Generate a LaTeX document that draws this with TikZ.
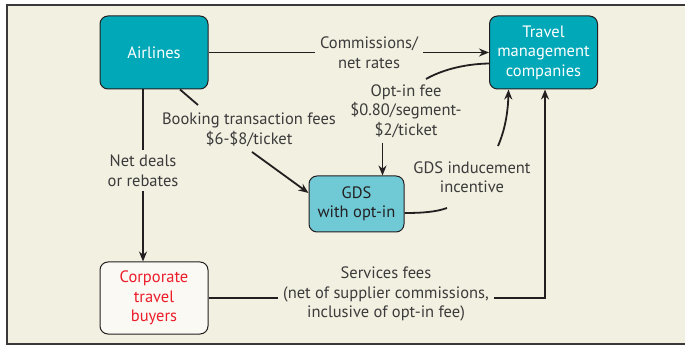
\documentclass[tikz,border=0pt]{standalone}
\usepackage{fontspec}
\setmainfont{PT Sans}
\usetikzlibrary{arrows.meta}

\definecolor{cream}{HTML}{F2F0E1}
\definecolor{framegray}{HTML}{3A3838}
\definecolor{linedark}{HTML}{231F20}
\definecolor{tealdark}{HTML}{00A8B8}
\definecolor{teallight}{HTML}{6FCAD6}
\definecolor{buyerred}{HTML}{EC1C2A}
\definecolor{labelgray}{HTML}{3C3B3B}

\newcommand{\flowfont}{\fontsize{16.5}{19.5}\selectfont}

\tikzset{
  box/.style={draw=linedark, line width=1pt, rounded corners=8pt, align=center, font=\flowfont, inner sep=2pt},
  tealbox/.style={box, fill=tealdark, text=white, minimum width=108pt, minimum height=73pt},
  gdsbox/.style={box, fill=teallight, text=linedark, minimum width=95pt, minimum height=56pt},
  buyerbox/.style={box, fill=white!60!cream, text=buyerred, minimum width=108pt, minimum height=72pt},
  lbl/.style={align=center, text=labelgray, font=\flowfont, inner sep=5pt},
  flow/.style={line width=1.8pt, draw=linedark},
  arr/.style={flow, -{Stealth[length=10pt,width=8pt]}}
}

\begin{document}
\begin{tikzpicture}[x=1pt,y=-1pt]
\useasboundingbox (0,0) rectangle (685,347);

% frame
\fill[cream] (7,5) rectangle (685,344);
\draw[framegray, line width=1.5pt] (685,5) -- (7,5) -- (7,344) -- (685,344);

% boxes
\node[tealbox] (airlines) at (154,52.5) {Airlines};
\node[tealbox] (tmc) at (543.5,52.5) {Travel\\management\\companies};
\node[gdsbox] (gds) at (356.5,204) {GDS\\with opt-in};
\node[buyerbox] (buyers) at (154,298) {Corporate\\travel\\buyers};

% labels
\node[lbl] (commis) at (369,52.5) {Commissions/\\net rates};
\node[lbl] (booking) at (249,130) {Booking transaction fees\\\$6-\$8/ticket};
\node[lbl] (netdeals) at (143,170.5) {Net deals\\or rebates};
\node[lbl] (optin) at (406,111) {Opt-in fee\\\$0.80/segment-\\\$2/ticket};
\node[lbl] (induce) at (472,177) {GDS inducement\\incentive};
\node[lbl] (services) at (386,294) {Services fees\\(net of supplier commissions,\\inclusive of opt-in fee)};

% free ends
\coordinate (bookend) at (198,105);
\coordinate (optend) at (426,79);
\coordinate (incend) at (447,208);
\coordinate (incstart) at (498,146);
\coordinate (gdstop) at ([xshift=26pt]gds.north);

% airlines to tmc
\draw[flow] (airlines.east) -- (airlines.east -| commis.west);
\draw[arr] (commis.east |- tmc.west) -- (tmc.west);

% airlines to gds
\draw[flow] ([xshift=26pt]airlines.south) -- (bookend);
\draw[arr] ([xshift=3pt]booking.south) -- ([yshift=11pt]gds.west);

% airlines to buyers
\draw[flow] (netdeals.north |- airlines.south) -- (netdeals.north);
\draw[arr] (netdeals.south) -- (netdeals.south |- buyers.north);

% opt-in fee
\draw[flow] ([yshift=-11pt]tmc.west) .. controls (462,64) and (440,71) .. (optend);
\draw[arr] (gdstop |- optin.south) -- (gdstop);

% inducement
\draw[flow] ([yshift=-9pt]gds.east) .. controls (422,213) and (436,212) .. (incend);
\draw[arr] (incstart) .. controls (505,130) and (508,112) .. ([xshift=-35pt]tmc.south);

% service fees
\draw[flow] (buyers.east) -- (buyers.east -| services.west);
\draw[arr] (services.east |- buyers.east) -| ([xshift=1.5pt]tmc.south);

\end{tikzpicture}
\end{document}
